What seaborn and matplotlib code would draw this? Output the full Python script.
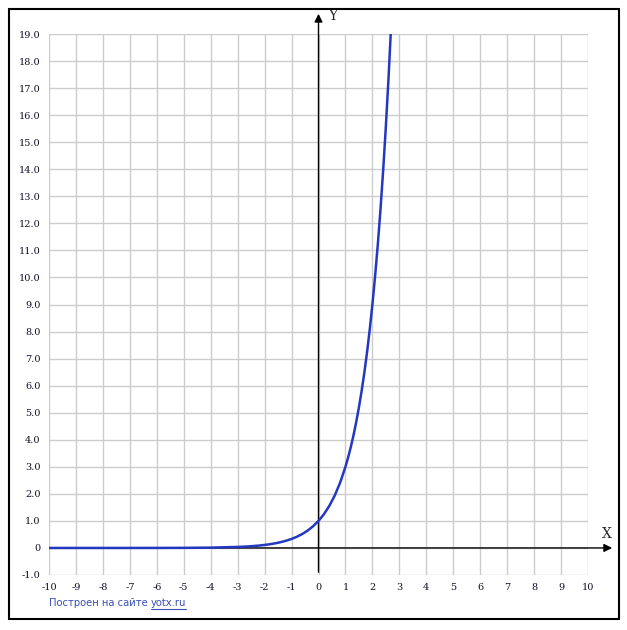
import matplotlib
matplotlib.use("Agg")
import matplotlib.pyplot as plt
import seaborn as sns
import pandas as pd
from matplotlib.patches import Rectangle
from matplotlib.lines import Line2D

# points
x_vals = [-10, -9, -8, -7, -6, -5, -4, -3, -2.8, -2.6, -2.4, -2.2, -2.0, -1.8, -1.6,
          -1.4, -1.2, -1.0, -0.8, -0.6, -0.4, -0.2, 0.0, 0.2, 0.4, 0.6, 0.8, 1.0,
          1.1, 1.2, 1.3, 1.4, 1.5, 1.6, 1.7, 1.8, 1.9, 2.0, 2.1, 2.2, 2.3, 2.4,
          2.5, 2.6, 2.7]
y_vals = [0.0, 0.0001, 0.0002, 0.0005, 0.0014, 0.004, 0.012, 0.037, 0.046, 0.057,
          0.072, 0.089, 0.111, 0.138, 0.172, 0.215, 0.268, 0.333, 0.415, 0.517,
          0.644, 0.803, 1.0, 1.246, 1.552, 1.933, 2.408, 3.0, 3.348, 3.737, 4.171,
          4.656, 5.196, 5.8, 6.473, 7.225, 8.064, 9.0, 10.05, 11.21, 12.51, 13.97,
          15.59, 17.4, 19.42]
x_ticks = list(range(-10, 11))
y_ticks = list(range(-1, 20))
y_tick_labels = ["0" if v == 0 else f"{v:.1f}" for v in y_ticks]

df = pd.DataFrame({"x": x_vals, "y": y_vals})

sns.set_style("white")
W, H = 627, 630
fig = plt.figure(figsize=(W / 100, H / 100), dpi=100)
ax = fig.add_axes([49 / W, (H - 575) / H, (588 - 49) / W, (575 - 34) / H])

sns.lineplot(data=df, x="x", y="y", ax=ax, color="#2338c0", linewidth=1.8,
             estimator=None, sort=True, zorder=5)

ax.set_xlim(-10, 10)
ax.set_ylim(-1, 19)
ax.set_xticks(x_ticks)
ax.set_yticks(y_ticks)
ax.set_xticklabels([str(v) for v in x_ticks], fontsize=7, family="DejaVu Serif", color="#10102a")
ax.set_yticklabels(y_tick_labels, fontsize=7, family="DejaVu Serif", color="#10102a")
ax.tick_params(length=0, pad=6)
ax.grid(True, color="#cccccc", linewidth=1)
for s in ax.spines.values():
    s.set_visible(False)
ax.set_xlabel("")
ax.set_ylabel("")

# axes with arrows
ax.annotate("", xy=(11.0, 0), xytext=(-10, 0), annotation_clip=False,
            arrowprops=dict(arrowstyle="-|>", color="black", lw=1, mutation_scale=12))
ax.annotate("", xy=(0, 19.85), xytext=(0, -1), annotation_clip=False,
            arrowprops=dict(arrowstyle="-|>", color="black", lw=1, mutation_scale=12))
ax.text(10.69, 0.5, "X", fontsize=10, family="DejaVu Serif", ha="center", va="center",
        clip_on=False)
ax.text(0.52, 19.68, "Y", fontsize=10, family="DejaVu Serif", ha="center", va="center",
        clip_on=False)

# outer frame
fig.patches.append(Rectangle((9 / W, (H - 619) / H), 610 / W, 610 / H, transform=fig.transFigure,
                             fill=False, edgecolor="black", linewidth=1.5))

# footer
t1 = fig.text(49 / W, (H - 603) / H, "Построен на сайте ", fontsize=7.2, color="#3a4fb0",
              va="center", ha="left")
fig.canvas.draw()
bb = t1.get_window_extent()
t2 = fig.text(bb.x1 / W, (H - 603) / H, "yotx.ru", fontsize=7.2, color="#3a4fb0",
              va="center", ha="left")
fig.canvas.draw()
bb2 = t2.get_window_extent()
fig.lines.append(Line2D([bb2.x0 / W, bb2.x1 / W], [(bb2.y0 - 0.5) / H, (bb2.y0 - 0.5) / H],
                        transform=fig.transFigure, color="#3a4fb0", linewidth=0.8))

fig.savefig("out.png", dpi=100)
